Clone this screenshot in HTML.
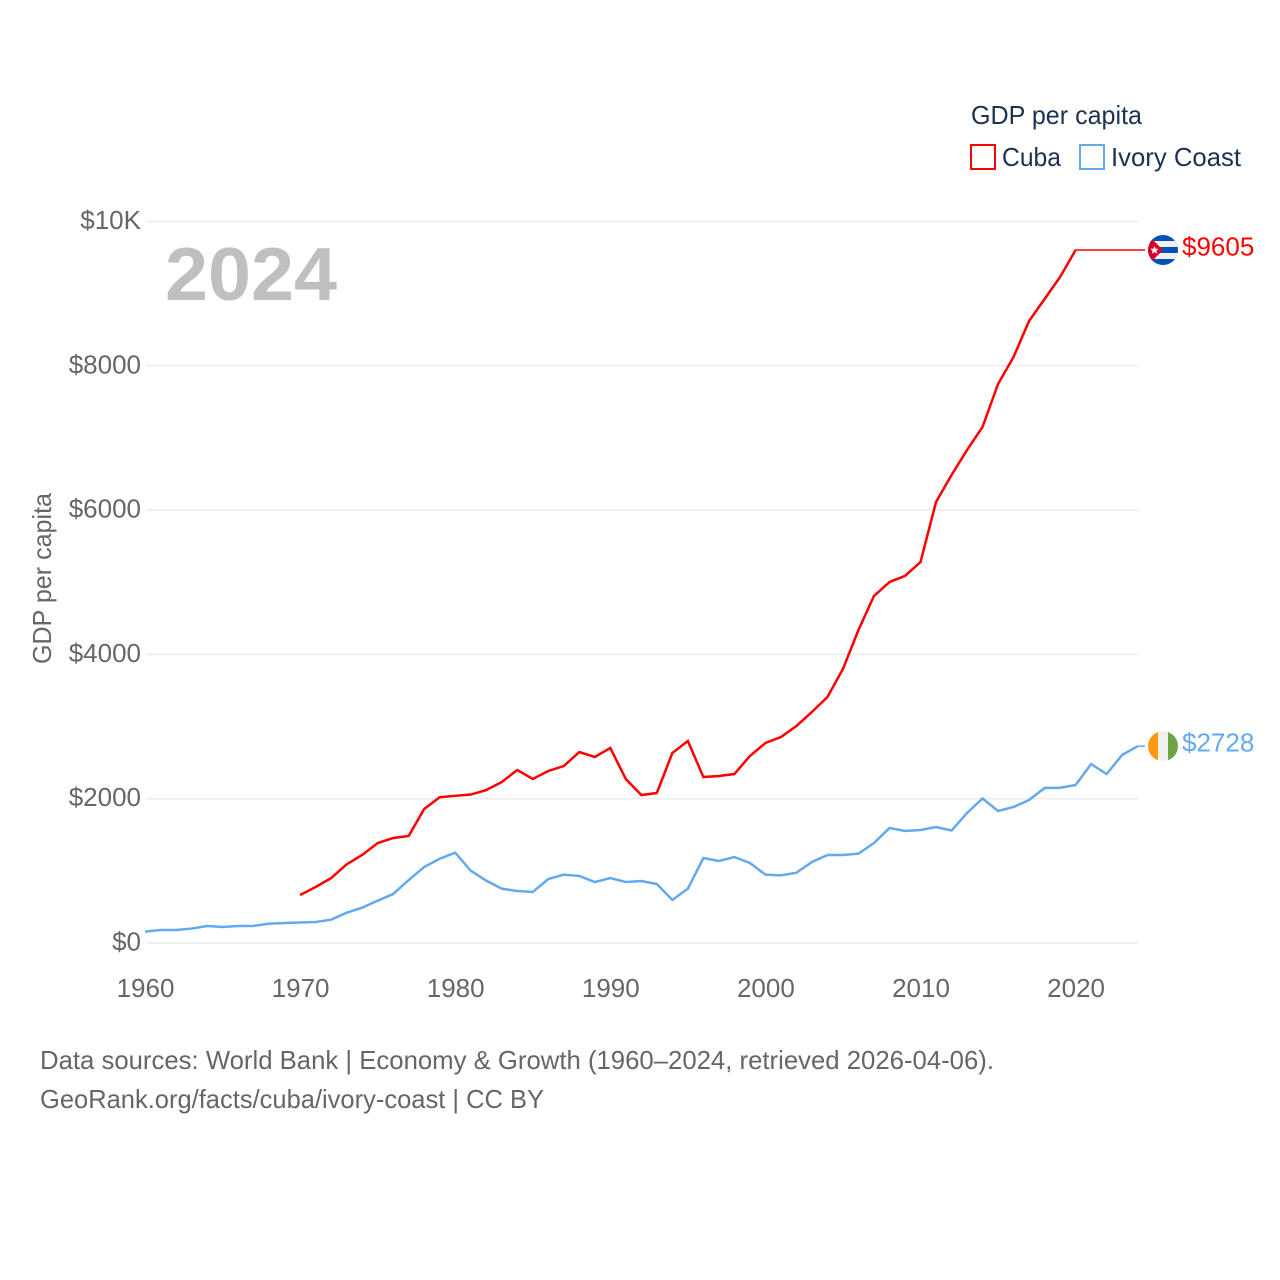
<!DOCTYPE html>
<html lang="en">
<head>
<meta charset="utf-8">
<title>GDP per capita: Cuba and Ivory Coast</title>
<style>
  html, body { margin: 0; padding: 0; background: #fff; }
  svg { display: block; font-family: "Liberation Sans", sans-serif; }
  .tick { font-size: 26px; fill: #666; }
  .legend { font-size: 26px; fill: #1b3350; }
  .foot { font-size: 26px; fill: #666; }
</style>
</head>
<body>
<svg id="chart" xmlns="http://www.w3.org/2000/svg" width="1280" height="1280" viewBox="0 0 1280 1280">
  <defs>
    <clipPath id="flag-clip"><circle cx="0" cy="0" r="15"></circle></clipPath>
  </defs>
  <g id="grid"></g>
  <g id="yticks"></g>
  <g id="xticks"></g>
  <text x="165" y="300" font-size="75" font-weight="700" fill="#bfbfbf" textLength="172" lengthAdjust="spacingAndGlyphs">2024</text>
  <text class="tick" transform="translate(51 578.5) rotate(-90)" text-anchor="middle" textLength="171" lengthAdjust="spacingAndGlyphs">GDP per capita</text>
  <g id="series"></g>

  <g id="cuba-flag">
    <g clip-path="url(#flag-clip)">
      <rect x="-15" y="-15" width="30" height="30" fill="#0052b4"></rect>
      <rect x="-15" y="-9" width="30" height="6" fill="#f0f0f0"></rect>
      <rect x="-15" y="3" width="30" height="6" fill="#f0f0f0"></rect>
      <polygon points="-15,-15 0,0 -15,15" fill="#d80027"></polygon>
      <polygon points="-8.5,-4 -7.2,-1.2 -4.2,-1.2 -6.5,0.8 -5.7,3.8 -8.5,2.1 -11.3,3.8 -10.5,0.8 -12.8,-1.2 -9.8,-1.2" fill="#f0f0f0"></polygon>
    </g>
  </g>
  <g id="ivory-flag">
    <g clip-path="url(#flag-clip)">
      <rect x="-15" y="-15" width="10" height="30" fill="#ff9811"></rect>
      <rect x="-5" y="-15" width="10" height="30" fill="#f0f0f0"></rect>
      <rect x="5" y="-15" width="10" height="30" fill="#6da544"></rect>
    </g>
  </g>
  <text id="cuba-value" x="1182" font-size="26" fill="#ff0000"></text>
  <text id="ivory-value" x="1182" font-size="26" fill="#62a9ee"></text>

  <g>
    <text class="legend" x="971" y="124" textLength="171" lengthAdjust="spacingAndGlyphs">GDP per capita</text>
    <g>
      <rect x="971" y="145" width="24" height="24" fill="none" stroke="#ff0000" stroke-width="2"></rect>
      <text class="legend" x="1002" y="166" textLength="59" lengthAdjust="spacingAndGlyphs">Cuba</text>
    </g>
    <g>
      <rect x="1080" y="145" width="24" height="24" fill="none" stroke="#62a9ee" stroke-width="2"></rect>
      <text class="legend" x="1111" y="166" textLength="130" lengthAdjust="spacingAndGlyphs">Ivory Coast</text>
    </g>
  </g>

  <text class="foot" x="40" y="1069" textLength="954" lengthAdjust="spacingAndGlyphs">Data sources: World Bank | Economy &amp; Growth (1960–2024, retrieved 2026-04-06).</text>
  <text class="foot" x="40" y="1108" textLength="504" lengthAdjust="spacingAndGlyphs">GeoRank.org/facts/cuba/ivory-coast | CC BY</text>
</svg>
<script>
const years = [1960,1961,1962,1963,1964,1965,1966,1967,1968,1969,1970,1971,1972,1973,1974,1975,1976,1977,1978,1979,1980,1981,1982,1983,1984,1985,1986,1987,1988,1989,1990,1991,1992,1993,1994,1995,1996,1997,1998,1999,2000,2001,2002,2003,2004,2005,2006,2007,2008,2009,2010,2011,2012,2013,2014,2015,2016,2017,2018,2019,2020,2021,2022,2023,2024];
const cubaValues = [null,null,null,null,null,null,null,null,null,null,665,776,900,1090,1220,1385,1455,1483,1857,2020,2040,2058,2120,2230,2398,2273,2384,2453,2647,2578,2703,2273,2051,2079,2633,2800,2300,2315,2342,2592,2772,2855,3008,3202,3410,3798,4338,4810,5003,5087,5280,6112,6486,6833,7152,7748,8122,8621,8926,9231,9605,null,null,null,null];
const ivoryValues = [157,180,180,200,235,222,235,237,268,277,285,291,323,420,490,586,679,873,1053,1168,1251,1002,864,753,720,707,887,947,929,845,900,845,859,818,596,753,1178,1137,1192,1109,947,937,974,1123,1220,1220,1238,1386,1594,1552,1566,1608,1559,1802,2003,1830,1885,1982,2148,2152,2190,2481,2342,2606,2728];
const yTickValues = [0,2000,4000,6000,8000,10000];
const yTickLabels = ["$0","$2000","$4000","$6000","$8000","$10K"];
const xTickValues = [1960,1970,1980,1990,2000,2010,2020];

const NS = "http://www.w3.org/2000/svg";
const xScale = function (year) { return 145 + (year - 1960) * 15.51; };
const yScale = function (value) { return 943 - value * 0.07215; };
const LEADER_END = 1145;
const FLAG_X = 1163;

const gridGroup = document.getElementById("grid");
const yTickGroup = document.getElementById("yticks");
const xTickGroup = document.getElementById("xticks");
const seriesGroup = document.getElementById("series");

yTickValues.forEach(function (value, i) {
  const line = document.createElementNS(NS, "line");
  
  
  line.setAttribute("x1", 146);
  line.setAttribute("x2", 1138);
  line.setAttribute("y1", yScale(value));
  line.setAttribute("y2", yScale(value));
  line.setAttribute("stroke", "#ececec");
  line.setAttribute("stroke-width", "1.5");
  gridGroup.appendChild(line);

  const label = document.createElementNS(NS, "text");
  
  
  label.setAttribute("class", "tick");
  label.setAttribute("x", 141);
  label.setAttribute("y", yScale(value) + 7.5);
  label.setAttribute("text-anchor", "end");
  label.textContent = yTickLabels[i];
  yTickGroup.appendChild(label);
});

xTickValues.forEach(function (year) {
  const label = document.createElementNS(NS, "text");
  
  
  label.setAttribute("class", "tick");
  label.setAttribute("x", xScale(year) + 0.5);
  label.setAttribute("y", 997);
  label.setAttribute("text-anchor", "middle");
  label.textContent = String(year);
  xTickGroup.appendChild(label);
});

function linePoints(values) {
  const points = [];
  values.forEach(function (value, i) {
    if (value !== null) {
      points.push(xScale(years[i]).toFixed(2) + "," + yScale(value).toFixed(2));
    }
  });
  return points.join(" ");
}

function lastValid(values) {
  for (let i = values.length - 1; i >= 0; i--) {
    if (values[i] !== null) {
      return { year: years[i], value: values[i] };
    }
  }
  return null;
}

const cubaLine = document.createElementNS(NS, "polyline");


cubaLine.setAttribute("points", linePoints(cubaValues));
cubaLine.setAttribute("fill", "none");
cubaLine.setAttribute("stroke", "#ff0000");
cubaLine.setAttribute("stroke-width", "2.5");
seriesGroup.appendChild(cubaLine);

const ivoryLine = document.createElementNS(NS, "polyline");


ivoryLine.setAttribute("points", linePoints(ivoryValues));
ivoryLine.setAttribute("fill", "none");
ivoryLine.setAttribute("stroke", "#62a9ee");
ivoryLine.setAttribute("stroke-width", "2.5");
seriesGroup.appendChild(ivoryLine);

const cubaLast = lastValid(cubaValues);
const ivoryLast = lastValid(ivoryValues);

const cubaLeader = document.createElementNS(NS, "line");


cubaLeader.setAttribute("x1", xScale(cubaLast.year));
cubaLeader.setAttribute("x2", LEADER_END);
cubaLeader.setAttribute("y1", yScale(cubaLast.value));
cubaLeader.setAttribute("y2", yScale(cubaLast.value));
cubaLeader.setAttribute("stroke", "#ff0000");
cubaLeader.setAttribute("stroke-width", "1.5");
seriesGroup.appendChild(cubaLeader);

const ivoryLeader = document.createElementNS(NS, "line");


ivoryLeader.setAttribute("x1", xScale(ivoryLast.year));
ivoryLeader.setAttribute("x2", LEADER_END);
ivoryLeader.setAttribute("y1", yScale(ivoryLast.value));
ivoryLeader.setAttribute("y2", yScale(ivoryLast.value));
ivoryLeader.setAttribute("stroke", "#62a9ee");
ivoryLeader.setAttribute("stroke-width", "1.5");
seriesGroup.appendChild(ivoryLeader);

document.getElementById("cuba-flag").setAttribute("transform", "translate(" + FLAG_X + " " + yScale(cubaLast.value) + ")");
document.getElementById("ivory-flag").setAttribute("transform", "translate(" + FLAG_X + " " + yScale(ivoryLast.value) + ")");

const cubaText = document.getElementById("cuba-value");
cubaText.setAttribute("y", yScale(cubaLast.value) + 5.5);
cubaText.textContent = "$" + cubaLast.value;

const ivoryText = document.getElementById("ivory-value");
ivoryText.setAttribute("y", yScale(ivoryLast.value) + 5.5);
ivoryText.textContent = "$" + ivoryLast.value;
</script>
</body>
</html>
